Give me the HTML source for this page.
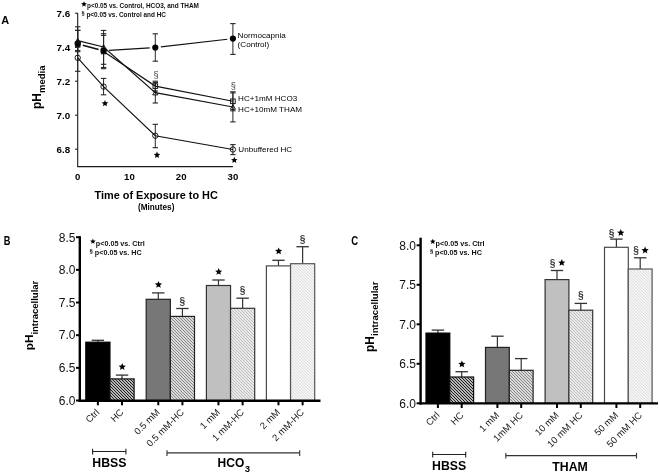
<!DOCTYPE html>
<html><head><meta charset="utf-8"><style>
html,body{margin:0;padding:0;background:#fff;}
svg{display:block;font-family:"Liberation Sans", sans-serif;filter:grayscale(1) blur(0.35px);}
</style></head><body>
<svg width="660" height="474" viewBox="0 0 660 474" font-family='"Liberation Sans", sans-serif'>
<rect width="660" height="474" fill="#fff"/>
<text x="1.20" y="23.80" font-size="11.3" font-weight="bold" text-anchor="start" fill="#000" transform="translate(1.2,0) scale(0.97,1) translate(-1.2,0)">A</text>
<line x1="77.70" y1="13.00" x2="77.70" y2="166.70" stroke="#1a1a1a" stroke-width="1.1" />
<line x1="77.15" y1="166.70" x2="232.90" y2="166.70" stroke="#1a1a1a" stroke-width="1.2" />
<line x1="75.10" y1="13.20" x2="77.70" y2="13.20" stroke="#1a1a1a" stroke-width="1.1" />
<text x="70.20" y="16.70" font-size="9.8" font-weight="bold" text-anchor="end" fill="#000" >7.6</text>
<line x1="75.10" y1="47.20" x2="77.70" y2="47.20" stroke="#1a1a1a" stroke-width="1.1" />
<text x="70.20" y="50.70" font-size="9.8" font-weight="bold" text-anchor="end" fill="#000" >7.4</text>
<line x1="75.10" y1="81.20" x2="77.70" y2="81.20" stroke="#1a1a1a" stroke-width="1.1" />
<text x="70.20" y="84.70" font-size="9.8" font-weight="bold" text-anchor="end" fill="#000" >7.2</text>
<line x1="75.10" y1="115.20" x2="77.70" y2="115.20" stroke="#1a1a1a" stroke-width="1.1" />
<text x="70.20" y="118.70" font-size="9.8" font-weight="bold" text-anchor="end" fill="#000" >7.0</text>
<line x1="75.10" y1="149.20" x2="77.70" y2="149.20" stroke="#1a1a1a" stroke-width="1.1" />
<text x="70.20" y="152.70" font-size="9.8" font-weight="bold" text-anchor="end" fill="#000" >6.8</text>
<text x="77.70" y="179.80" font-size="9.6" font-weight="bold" text-anchor="middle" fill="#000" >0</text>
<text x="129.43" y="179.80" font-size="9.6" font-weight="bold" text-anchor="middle" fill="#000" >10</text>
<text x="181.17" y="179.80" font-size="9.6" font-weight="bold" text-anchor="middle" fill="#000" >20</text>
<text x="232.90" y="179.80" font-size="9.6" font-weight="bold" text-anchor="middle" fill="#000" >30</text>
<text x="156.20" y="199.20" font-size="10.9" font-weight="bold" text-anchor="middle" fill="#000" >Time of Exposure to HC</text>
<text x="156.20" y="209.90" font-size="8.2" font-weight="bold" text-anchor="middle" fill="#000" >(Minutes)</text>
<text transform="translate(41.3,109.0) rotate(-90)" font-weight="bold" fill="#000"><tspan font-size="12">pH</tspan><tspan font-size="9.5" dy="4.1">media</tspan></text>
<polygon points="84.00,1.20 84.81,3.08 86.85,3.27 85.31,4.63 85.76,6.63 84.00,5.58 82.24,6.63 82.69,4.63 81.15,3.27 83.19,3.08" fill="#000"/>
<text x="87.00" y="8.30" font-size="6.42" font-weight="bold" text-anchor="start" fill="#111" >p&lt;0.05 vs. Control, HCO3, and THAM</text>
<text x="81.60" y="14.90" font-size="5.6" font-weight="bold" text-anchor="start" fill="#111" >&#167;</text>
<text x="86.40" y="16.60" font-size="6.42" font-weight="bold" text-anchor="start" fill="#111" >p&lt;0.05 vs. Control and HC</text>
<line x1="77.70" y1="44.50" x2="77.70" y2="71.30" stroke="#262626" stroke-width="1.0" />
<line x1="75.00" y1="44.50" x2="80.40" y2="44.50" stroke="#262626" stroke-width="1.1" />
<line x1="75.00" y1="71.30" x2="80.40" y2="71.30" stroke="#262626" stroke-width="1.1" />
<line x1="103.57" y1="78.40" x2="103.57" y2="94.80" stroke="#262626" stroke-width="1.0" />
<line x1="100.87" y1="78.40" x2="106.27" y2="78.40" stroke="#262626" stroke-width="1.1" />
<line x1="100.87" y1="94.80" x2="106.27" y2="94.80" stroke="#262626" stroke-width="1.1" />
<line x1="155.30" y1="124.30" x2="155.30" y2="147.70" stroke="#262626" stroke-width="1.0" />
<line x1="152.60" y1="124.30" x2="158.00" y2="124.30" stroke="#262626" stroke-width="1.1" />
<line x1="152.60" y1="147.70" x2="158.00" y2="147.70" stroke="#262626" stroke-width="1.1" />
<line x1="232.90" y1="144.60" x2="232.90" y2="154.60" stroke="#262626" stroke-width="1.0" />
<line x1="230.20" y1="144.60" x2="235.60" y2="144.60" stroke="#262626" stroke-width="1.1" />
<line x1="230.20" y1="154.60" x2="235.60" y2="154.60" stroke="#262626" stroke-width="1.1" />
<line x1="77.70" y1="30.40" x2="77.70" y2="51.70" stroke="#262626" stroke-width="1.0" />
<line x1="75.00" y1="30.40" x2="80.40" y2="30.40" stroke="#262626" stroke-width="1.1" />
<line x1="75.00" y1="51.70" x2="80.40" y2="51.70" stroke="#262626" stroke-width="1.1" />
<line x1="103.57" y1="35.40" x2="103.57" y2="64.30" stroke="#262626" stroke-width="1.0" />
<line x1="100.87" y1="35.40" x2="106.27" y2="35.40" stroke="#262626" stroke-width="1.1" />
<line x1="100.87" y1="64.30" x2="106.27" y2="64.30" stroke="#262626" stroke-width="1.1" />
<line x1="155.30" y1="82.60" x2="155.30" y2="103.00" stroke="#262626" stroke-width="1.0" />
<line x1="152.60" y1="82.60" x2="158.00" y2="82.60" stroke="#262626" stroke-width="1.1" />
<line x1="152.60" y1="103.00" x2="158.00" y2="103.00" stroke="#262626" stroke-width="1.1" />
<line x1="232.90" y1="92.90" x2="232.90" y2="121.90" stroke="#262626" stroke-width="1.0" />
<line x1="230.20" y1="92.90" x2="235.60" y2="92.90" stroke="#262626" stroke-width="1.1" />
<line x1="230.20" y1="121.90" x2="235.60" y2="121.90" stroke="#262626" stroke-width="1.1" />
<line x1="77.70" y1="30.40" x2="77.70" y2="47.20" stroke="#262626" stroke-width="1.0" />
<line x1="75.00" y1="30.40" x2="80.40" y2="30.40" stroke="#262626" stroke-width="1.1" />
<line x1="75.00" y1="47.20" x2="80.40" y2="47.20" stroke="#262626" stroke-width="1.1" />
<line x1="103.57" y1="33.70" x2="103.57" y2="67.50" stroke="#262626" stroke-width="1.0" />
<line x1="100.87" y1="33.70" x2="106.27" y2="33.70" stroke="#262626" stroke-width="1.1" />
<line x1="100.87" y1="67.50" x2="106.27" y2="67.50" stroke="#262626" stroke-width="1.1" />
<line x1="155.30" y1="81.20" x2="155.30" y2="91.00" stroke="#262626" stroke-width="1.0" />
<line x1="152.60" y1="81.20" x2="158.00" y2="81.20" stroke="#262626" stroke-width="1.1" />
<line x1="152.60" y1="91.00" x2="158.00" y2="91.00" stroke="#262626" stroke-width="1.1" />
<line x1="232.90" y1="91.80" x2="232.90" y2="110.80" stroke="#262626" stroke-width="1.0" />
<line x1="230.20" y1="91.80" x2="235.60" y2="91.80" stroke="#262626" stroke-width="1.1" />
<line x1="230.20" y1="110.80" x2="235.60" y2="110.80" stroke="#262626" stroke-width="1.1" />
<line x1="77.70" y1="26.80" x2="77.70" y2="50.50" stroke="#262626" stroke-width="1.0" />
<line x1="75.00" y1="26.80" x2="80.40" y2="26.80" stroke="#262626" stroke-width="1.1" />
<line x1="75.00" y1="50.50" x2="80.40" y2="50.50" stroke="#262626" stroke-width="1.1" />
<line x1="103.57" y1="30.40" x2="103.57" y2="68.70" stroke="#262626" stroke-width="1.0" />
<line x1="100.87" y1="30.40" x2="106.27" y2="30.40" stroke="#262626" stroke-width="1.1" />
<line x1="100.87" y1="68.70" x2="106.27" y2="68.70" stroke="#262626" stroke-width="1.1" />
<line x1="155.30" y1="33.80" x2="155.30" y2="61.20" stroke="#262626" stroke-width="1.0" />
<line x1="152.60" y1="33.80" x2="158.00" y2="33.80" stroke="#262626" stroke-width="1.1" />
<line x1="152.60" y1="61.20" x2="158.00" y2="61.20" stroke="#262626" stroke-width="1.1" />
<line x1="232.90" y1="23.60" x2="232.90" y2="54.40" stroke="#262626" stroke-width="1.0" />
<line x1="230.20" y1="23.60" x2="235.60" y2="23.60" stroke="#262626" stroke-width="1.1" />
<line x1="230.20" y1="54.40" x2="235.60" y2="54.40" stroke="#262626" stroke-width="1.1" />
<polyline points="77.70,57.80 103.57,86.60 155.30,135.70 232.90,149.50" fill="none" stroke="#111" stroke-width="1.15"/>
<polyline points="77.70,40.60 103.57,47.00 155.30,92.60 232.90,107.00" fill="none" stroke="#111" stroke-width="1.15"/>
<polyline points="103.57,51.50 155.30,86.10 232.90,101.30" fill="none" stroke="#111" stroke-width="1.15"/>
<line x1="109.16" y1="50.44" x2="149.71" y2="47.86" stroke="#111" stroke-width="1.15" />
<line x1="160.86" y1="46.86" x2="227.34" y2="39.24" stroke="#111" stroke-width="1.15" />
<line x1="82.80" y1="45.20" x2="98.60" y2="49.50" stroke="#111" stroke-width="1.6" />
<circle cx="77.70" cy="43.70" r="3.1" fill="#000"/>
<circle cx="103.57" cy="50.80" r="3.1" fill="#000"/>
<circle cx="155.30" cy="47.50" r="3.1" fill="#000"/>
<circle cx="232.90" cy="38.60" r="3.1" fill="#000"/>
<circle cx="77.70" cy="57.80" r="2.7" fill="none" stroke="#111" stroke-width="0.95"/>
<circle cx="103.57" cy="86.60" r="2.7" fill="none" stroke="#111" stroke-width="0.95"/>
<circle cx="155.30" cy="135.70" r="2.7" fill="none" stroke="#111" stroke-width="0.95"/>
<circle cx="232.90" cy="149.50" r="2.7" fill="none" stroke="#111" stroke-width="0.95"/>
<rect x="75.40" y="41.70" width="4.6" height="4.6" fill="none" stroke="#111" stroke-width="0.95"/>
<rect x="101.27" y="49.20" width="4.6" height="4.6" fill="none" stroke="#111" stroke-width="0.95"/>
<rect x="153.00" y="83.80" width="4.6" height="4.6" fill="none" stroke="#111" stroke-width="0.95"/>
<rect x="230.60" y="99.00" width="4.6" height="4.6" fill="none" stroke="#111" stroke-width="0.95"/>
<polygon points="77.70,38.30 80.30,42.90 75.10,42.90" fill="none" stroke="#111" stroke-width="0.95"/>
<polygon points="103.57,44.70 106.17,49.30 100.97,49.30" fill="none" stroke="#111" stroke-width="0.95"/>
<polygon points="155.30,90.30 157.90,94.90 152.70,94.90" fill="none" stroke="#111" stroke-width="0.95"/>
<polygon points="232.90,104.70 235.50,109.30 230.30,109.30" fill="none" stroke="#111" stroke-width="0.95"/>
<polygon points="105.00,99.90 105.93,102.13 108.33,102.32 106.50,103.89 107.06,106.23 105.00,104.98 102.94,106.23 103.50,103.89 101.67,102.32 104.07,102.13" fill="#000"/>
<polygon points="157.00,151.60 157.93,153.83 160.33,154.02 158.50,155.59 159.06,157.93 157.00,156.67 154.94,157.93 155.50,155.59 153.67,154.02 156.07,153.83" fill="#000"/>
<polygon points="234.30,156.80 235.20,158.96 237.53,159.15 235.76,160.67 236.30,162.95 234.30,161.73 232.30,162.95 232.84,160.67 231.07,159.15 233.40,158.96" fill="#000"/>
<text x="156.00" y="78.40" font-size="9.2" font-weight="normal" text-anchor="middle" fill="#3a3a3a" >&#167;</text>
<text x="233.20" y="88.60" font-size="9.2" font-weight="normal" text-anchor="middle" fill="#3a3a3a" >&#167;</text>
<text x="237.60" y="38.30" font-size="8.1" font-weight="normal" text-anchor="start" fill="#000" >Normocapnia</text>
<text x="237.60" y="47.30" font-size="8.1" font-weight="normal" text-anchor="start" fill="#000" >(Control)</text>
<text x="238.10" y="100.90" font-size="8.1" font-weight="normal" text-anchor="start" fill="#000" >HC+1mM HCO3</text>
<text x="238.10" y="112.10" font-size="8.1" font-weight="normal" text-anchor="start" fill="#000" >HC+10mM THAM</text>
<text x="238.30" y="152.00" font-size="8.1" font-weight="normal" text-anchor="start" fill="#000" >Unbuffered HC</text>
<defs>
<pattern id="hD" patternUnits="userSpaceOnUse" x="0" y="0" width="3" height="3"><rect width="3" height="3" fill="#fff"/><path d="M-1,-1 L4,4 M-4,-1 L1,4 M2,-1 L7,4" stroke="#151515" stroke-width="1.2"/></pattern>
<pattern id="hM" patternUnits="userSpaceOnUse" x="0" y="0" width="3" height="3"><rect width="3" height="3" fill="#fff"/><path d="M-1,-1 L4,4 M-4,-1 L1,4 M2,-1 L7,4" stroke="#858585" stroke-width="1.15"/></pattern>
<pattern id="hL" patternUnits="userSpaceOnUse" x="0" y="0" width="3" height="3"><rect width="3" height="3" fill="#fff"/><path d="M-1,-1 L4,4 M-4,-1 L1,4 M2,-1 L7,4" stroke="#bcbcbc" stroke-width="1.2"/></pattern>
<pattern id="hX" patternUnits="userSpaceOnUse" x="0" y="0" width="3" height="3"><rect width="3" height="3" fill="#fff"/><path d="M-1,-1 L4,4 M-4,-1 L1,4 M2,-1 L7,4" stroke="#dedede" stroke-width="1.2"/></pattern>
</defs>
<text x="3.70" y="244.90" font-size="12" font-weight="bold" text-anchor="start" fill="#000" transform="translate(3.7,0) scale(0.77,1) translate(-3.7,0)">B</text>
<line x1="97.88" y1="340.30" x2="97.88" y2="342.20" stroke="#333" stroke-width="1.2" />
<line x1="91.67" y1="340.30" x2="104.08" y2="340.30" stroke="#333" stroke-width="1.3" />
<rect x="85.80" y="342.20" width="24.15" height="58.40" fill="#000" stroke="#000" stroke-width="1.2"/>
<line x1="122.02" y1="375.10" x2="122.02" y2="378.90" stroke="#333" stroke-width="1.2" />
<line x1="115.82" y1="375.10" x2="128.22" y2="375.10" stroke="#333" stroke-width="1.3" />
<rect x="109.95" y="378.90" width="24.15" height="21.70" fill="url(#hD)" stroke="#111" stroke-width="1.2"/>
<line x1="158.27" y1="292.90" x2="158.27" y2="299.30" stroke="#333" stroke-width="1.2" />
<line x1="152.07" y1="292.90" x2="164.47" y2="292.90" stroke="#333" stroke-width="1.3" />
<rect x="146.20" y="299.30" width="24.15" height="101.30" fill="#777777" stroke="#222" stroke-width="1.2"/>
<line x1="182.42" y1="308.50" x2="182.42" y2="316.40" stroke="#333" stroke-width="1.2" />
<line x1="176.22" y1="308.50" x2="188.62" y2="308.50" stroke="#333" stroke-width="1.3" />
<rect x="170.35" y="316.40" width="24.15" height="84.20" fill="url(#hM)" stroke="#222" stroke-width="1.2"/>
<line x1="218.47" y1="280.00" x2="218.47" y2="285.50" stroke="#333" stroke-width="1.2" />
<line x1="212.28" y1="280.00" x2="224.67" y2="280.00" stroke="#333" stroke-width="1.3" />
<rect x="206.40" y="285.50" width="24.15" height="115.10" fill="#c0c0c0" stroke="#333" stroke-width="1.2"/>
<line x1="242.62" y1="298.20" x2="242.62" y2="308.30" stroke="#333" stroke-width="1.2" />
<line x1="236.43" y1="298.20" x2="248.82" y2="298.20" stroke="#333" stroke-width="1.3" />
<rect x="230.55" y="308.30" width="24.15" height="92.30" fill="url(#hL)" stroke="#333" stroke-width="1.2"/>
<line x1="278.47" y1="260.30" x2="278.47" y2="265.90" stroke="#333" stroke-width="1.2" />
<line x1="272.27" y1="260.30" x2="284.67" y2="260.30" stroke="#333" stroke-width="1.3" />
<rect x="266.40" y="265.90" width="24.15" height="134.70" fill="#fff" stroke="#4a4a4a" stroke-width="1.2"/>
<line x1="302.62" y1="246.70" x2="302.62" y2="263.70" stroke="#333" stroke-width="1.2" />
<line x1="296.42" y1="246.70" x2="308.82" y2="246.70" stroke="#333" stroke-width="1.3" />
<rect x="290.55" y="263.70" width="24.15" height="136.90" fill="url(#hX)" stroke="#555" stroke-width="1.2"/>
<line x1="79.80" y1="236.20" x2="79.80" y2="401.70" stroke="#000" stroke-width="2.4" />
<line x1="78.60" y1="400.80" x2="320.50" y2="400.80" stroke="#000" stroke-width="2.5" />
<line x1="76.00" y1="237.20" x2="79.80" y2="237.20" stroke="#000" stroke-width="2" />
<text x="75.40" y="241.50" font-size="12" font-weight="normal" text-anchor="end" fill="#111" >8.5</text>
<line x1="76.00" y1="269.86" x2="79.80" y2="269.86" stroke="#000" stroke-width="2" />
<text x="75.40" y="274.16" font-size="12" font-weight="normal" text-anchor="end" fill="#111" >8.0</text>
<line x1="76.00" y1="302.52" x2="79.80" y2="302.52" stroke="#000" stroke-width="2" />
<text x="75.40" y="306.82" font-size="12" font-weight="normal" text-anchor="end" fill="#111" >7.5</text>
<line x1="76.00" y1="335.18" x2="79.80" y2="335.18" stroke="#000" stroke-width="2" />
<text x="75.40" y="339.48" font-size="12" font-weight="normal" text-anchor="end" fill="#111" >7.0</text>
<line x1="76.00" y1="367.84" x2="79.80" y2="367.84" stroke="#000" stroke-width="2" />
<text x="75.40" y="372.14" font-size="12" font-weight="normal" text-anchor="end" fill="#111" >6.5</text>
<line x1="76.00" y1="400.50" x2="79.80" y2="400.50" stroke="#000" stroke-width="2" />
<text x="75.40" y="404.80" font-size="12" font-weight="normal" text-anchor="end" fill="#111" >6.0</text>
<text transform="translate(33.4,350.2) rotate(-90)" font-weight="bold" fill="#000"><tspan font-size="11.7">pH</tspan><tspan font-size="9.5" dy="4.5">intracellular</tspan></text>
<polygon points="92.90,238.60 93.68,240.42 95.66,240.60 94.17,241.91 94.60,243.85 92.90,242.83 91.20,243.85 91.63,241.91 90.14,240.60 92.12,240.42" fill="#000"/>
<text x="95.80" y="245.80" font-size="7.2" font-weight="bold" text-anchor="start" fill="#111" >p&lt;0.05 vs. Ctrl</text>
<text x="89.50" y="252.90" font-size="6" font-weight="bold" text-anchor="start" fill="#111" >&#167;</text>
<text x="94.80" y="254.70" font-size="7.2" font-weight="bold" text-anchor="start" fill="#111" >p&lt;0.05 vs. HC</text>
<line x1="97.88" y1="400.60" x2="97.88" y2="405.30" stroke="#000" stroke-width="2" />
<line x1="122.02" y1="400.60" x2="122.02" y2="405.30" stroke="#000" stroke-width="2" />
<line x1="158.27" y1="400.60" x2="158.27" y2="405.30" stroke="#000" stroke-width="2" />
<line x1="182.42" y1="400.60" x2="182.42" y2="405.30" stroke="#000" stroke-width="2" />
<line x1="218.47" y1="400.60" x2="218.47" y2="405.30" stroke="#000" stroke-width="2" />
<line x1="242.62" y1="400.60" x2="242.62" y2="405.30" stroke="#000" stroke-width="2" />
<line x1="278.47" y1="400.60" x2="278.47" y2="405.30" stroke="#000" stroke-width="2" />
<line x1="302.62" y1="400.60" x2="302.62" y2="405.30" stroke="#000" stroke-width="2" />
<text transform="translate(99.97,412.9) rotate(-45)" font-size="9.5" text-anchor="end" fill="#1a1a1a">Ctrl</text>
<text transform="translate(124.12,412.9) rotate(-45)" font-size="9.5" text-anchor="end" fill="#1a1a1a">HC</text>
<text transform="translate(160.37,412.9) rotate(-45)" font-size="9.5" text-anchor="end" fill="#1a1a1a">0.5 mM</text>
<text transform="translate(184.52,412.9) rotate(-45)" font-size="9.5" text-anchor="end" fill="#1a1a1a">0.5 mM-HC</text>
<text transform="translate(220.57,412.9) rotate(-45)" font-size="9.5" text-anchor="end" fill="#1a1a1a">1 mM</text>
<text transform="translate(244.72,412.9) rotate(-45)" font-size="9.5" text-anchor="end" fill="#1a1a1a">1 mM-HC</text>
<text transform="translate(280.57,412.9) rotate(-45)" font-size="9.5" text-anchor="end" fill="#1a1a1a">2 mM</text>
<text transform="translate(304.72,412.9) rotate(-45)" font-size="9.5" text-anchor="end" fill="#1a1a1a">2 mM-HC</text>
<polygon points="122.22,363.10 123.23,365.52 125.84,365.73 123.85,367.43 124.46,369.97 122.22,368.61 119.99,369.97 120.60,367.43 118.61,365.73 121.22,365.52" fill="#000"/>
<polygon points="158.47,280.90 159.48,283.32 162.09,283.53 160.10,285.23 160.71,287.77 158.47,286.41 156.24,287.77 156.85,285.23 154.86,283.53 157.47,283.32" fill="#000"/>
<polygon points="218.67,268.00 219.68,270.42 222.29,270.63 220.30,272.33 220.91,274.87 218.67,273.51 216.44,274.87 217.05,272.33 215.06,270.63 217.67,270.42" fill="#000"/>
<polygon points="278.67,247.40 279.68,249.82 282.29,250.03 280.30,251.73 280.91,254.27 278.67,252.91 276.44,254.27 277.05,251.73 275.06,250.03 277.67,249.82" fill="#000"/>
<text x="182.42" y="304.50" font-size="10.2" font-weight="bold" text-anchor="middle" fill="#3a3a3a" >&#167;</text>
<text x="242.62" y="294.20" font-size="10.2" font-weight="bold" text-anchor="middle" fill="#3a3a3a" >&#167;</text>
<text x="302.62" y="242.70" font-size="10.2" font-weight="bold" text-anchor="middle" fill="#3a3a3a" >&#167;</text>
<line x1="92.60" y1="451.50" x2="125.90" y2="451.50" stroke="#222" stroke-width="1.1" />
<line x1="92.60" y1="448.80" x2="92.60" y2="454.50" stroke="#222" stroke-width="1.1" />
<line x1="125.90" y1="448.80" x2="125.90" y2="454.50" stroke="#222" stroke-width="1.1" />
<text x="109.40" y="466.80" font-size="12.3" font-weight="bold" text-anchor="middle" fill="#000" >HBSS</text>
<line x1="167.00" y1="452.90" x2="299.70" y2="452.90" stroke="#333" stroke-width="1.1" />
<line x1="167.00" y1="450.20" x2="167.00" y2="455.90" stroke="#333" stroke-width="1.1" />
<line x1="299.70" y1="450.20" x2="299.70" y2="455.90" stroke="#333" stroke-width="1.1" />
<text x="217.6" y="466.8" font-weight="bold" fill="#000"><tspan font-size="12">HCO</tspan><tspan font-size="9.5" dx="0.6" dy="4.9">3</tspan></text>
<text x="351.20" y="244.90" font-size="12" font-weight="bold" text-anchor="start" fill="#000" transform="translate(351.2,0) scale(0.8,1) translate(-351.2,0)">C</text>
<line x1="437.90" y1="330.10" x2="437.90" y2="333.10" stroke="#333" stroke-width="1.2" />
<line x1="431.70" y1="330.10" x2="444.10" y2="330.10" stroke="#333" stroke-width="1.3" />
<rect x="426.00" y="333.10" width="23.80" height="70.30" fill="#000" stroke="#000" stroke-width="1.2"/>
<line x1="461.70" y1="371.70" x2="461.70" y2="377.00" stroke="#333" stroke-width="1.2" />
<line x1="455.50" y1="371.70" x2="467.90" y2="371.70" stroke="#333" stroke-width="1.3" />
<rect x="449.80" y="377.00" width="23.80" height="26.40" fill="url(#hD)" stroke="#111" stroke-width="1.2"/>
<line x1="497.40" y1="336.20" x2="497.40" y2="347.40" stroke="#333" stroke-width="1.2" />
<line x1="491.20" y1="336.20" x2="503.60" y2="336.20" stroke="#333" stroke-width="1.3" />
<rect x="485.50" y="347.40" width="23.80" height="56.00" fill="#777777" stroke="#222" stroke-width="1.2"/>
<line x1="521.20" y1="358.60" x2="521.20" y2="370.30" stroke="#333" stroke-width="1.2" />
<line x1="515.00" y1="358.60" x2="527.40" y2="358.60" stroke="#333" stroke-width="1.3" />
<rect x="509.30" y="370.30" width="23.80" height="33.10" fill="url(#hM)" stroke="#222" stroke-width="1.2"/>
<line x1="557.00" y1="270.50" x2="557.00" y2="279.60" stroke="#333" stroke-width="1.2" />
<line x1="550.80" y1="270.50" x2="563.20" y2="270.50" stroke="#333" stroke-width="1.3" />
<rect x="545.10" y="279.60" width="23.80" height="123.80" fill="#c0c0c0" stroke="#333" stroke-width="1.2"/>
<line x1="580.80" y1="303.40" x2="580.80" y2="310.20" stroke="#333" stroke-width="1.2" />
<line x1="574.60" y1="303.40" x2="587.00" y2="303.40" stroke="#333" stroke-width="1.3" />
<rect x="568.90" y="310.20" width="23.80" height="93.20" fill="url(#hL)" stroke="#333" stroke-width="1.2"/>
<line x1="616.40" y1="239.10" x2="616.40" y2="247.30" stroke="#333" stroke-width="1.2" />
<line x1="610.20" y1="239.10" x2="622.60" y2="239.10" stroke="#333" stroke-width="1.3" />
<rect x="604.50" y="247.30" width="23.80" height="156.10" fill="#fff" stroke="#4a4a4a" stroke-width="1.2"/>
<line x1="640.20" y1="257.80" x2="640.20" y2="269.00" stroke="#333" stroke-width="1.2" />
<line x1="634.00" y1="257.80" x2="646.40" y2="257.80" stroke="#333" stroke-width="1.3" />
<rect x="628.30" y="269.00" width="23.80" height="134.40" fill="url(#hX)" stroke="#555" stroke-width="1.2"/>
<line x1="420.60" y1="237.70" x2="420.60" y2="404.50" stroke="#000" stroke-width="2.4" />
<line x1="419.40" y1="403.40" x2="658.00" y2="403.40" stroke="#000" stroke-width="2.4" />
<line x1="416.60" y1="245.30" x2="420.60" y2="245.30" stroke="#000" stroke-width="2" />
<text x="416.00" y="249.60" font-size="12" font-weight="normal" text-anchor="end" fill="#111" >8.0</text>
<line x1="416.60" y1="284.80" x2="420.60" y2="284.80" stroke="#000" stroke-width="2" />
<text x="416.00" y="289.10" font-size="12" font-weight="normal" text-anchor="end" fill="#111" >7.5</text>
<line x1="416.60" y1="324.30" x2="420.60" y2="324.30" stroke="#000" stroke-width="2" />
<text x="416.00" y="328.60" font-size="12" font-weight="normal" text-anchor="end" fill="#111" >7.0</text>
<line x1="416.60" y1="363.80" x2="420.60" y2="363.80" stroke="#000" stroke-width="2" />
<text x="416.00" y="368.10" font-size="12" font-weight="normal" text-anchor="end" fill="#111" >6.5</text>
<line x1="416.60" y1="403.30" x2="420.60" y2="403.30" stroke="#000" stroke-width="2" />
<text x="416.00" y="407.60" font-size="12" font-weight="normal" text-anchor="end" fill="#111" >6.0</text>
<text transform="translate(374.4,352.0) rotate(-90)" font-weight="bold" fill="#000"><tspan font-size="12">pH</tspan><tspan font-size="9.6" dy="3.9">intracellular</tspan></text>
<polygon points="432.80,238.80 433.58,240.62 435.56,240.80 434.07,242.11 434.50,244.05 432.80,243.03 431.10,244.05 431.53,242.11 430.04,240.80 432.02,240.62" fill="#000"/>
<text x="435.60" y="246.00" font-size="7.2" font-weight="bold" text-anchor="start" fill="#111" >p&lt;0.05 vs. Ctrl</text>
<text x="430.00" y="252.90" font-size="6" font-weight="bold" text-anchor="start" fill="#111" >&#167;</text>
<text x="435.00" y="254.60" font-size="7.2" font-weight="bold" text-anchor="start" fill="#111" >p&lt;0.05 vs. HC</text>
<line x1="437.90" y1="403.40" x2="437.90" y2="408.00" stroke="#000" stroke-width="2" />
<line x1="461.70" y1="403.40" x2="461.70" y2="408.00" stroke="#000" stroke-width="2" />
<line x1="497.40" y1="403.40" x2="497.40" y2="408.00" stroke="#000" stroke-width="2" />
<line x1="521.20" y1="403.40" x2="521.20" y2="408.00" stroke="#000" stroke-width="2" />
<line x1="557.00" y1="403.40" x2="557.00" y2="408.00" stroke="#000" stroke-width="2" />
<line x1="580.80" y1="403.40" x2="580.80" y2="408.00" stroke="#000" stroke-width="2" />
<line x1="616.40" y1="403.40" x2="616.40" y2="408.00" stroke="#000" stroke-width="2" />
<line x1="640.20" y1="403.40" x2="640.20" y2="408.00" stroke="#000" stroke-width="2" />
<text transform="translate(440.30,415.8) rotate(-45)" font-size="9.5" text-anchor="end" fill="#1a1a1a">Ctrl</text>
<text transform="translate(464.10,415.8) rotate(-45)" font-size="9.5" text-anchor="end" fill="#1a1a1a">HC</text>
<text transform="translate(499.80,415.8) rotate(-45)" font-size="9.5" text-anchor="end" fill="#1a1a1a">1 mM</text>
<text transform="translate(523.60,415.8) rotate(-45)" font-size="9.5" text-anchor="end" fill="#1a1a1a">1mM HC</text>
<text transform="translate(559.40,415.8) rotate(-45)" font-size="9.5" text-anchor="end" fill="#1a1a1a">10 mM</text>
<text transform="translate(583.20,415.8) rotate(-45)" font-size="9.5" text-anchor="end" fill="#1a1a1a">10 mM HC</text>
<text transform="translate(618.80,415.8) rotate(-45)" font-size="9.5" text-anchor="end" fill="#1a1a1a">50 mM</text>
<text transform="translate(642.60,415.8) rotate(-45)" font-size="9.5" text-anchor="end" fill="#1a1a1a">50 mM HC</text>
<polygon points="461.90,360.40 462.91,362.82 465.51,363.03 463.53,364.73 464.13,367.27 461.90,365.91 459.67,367.27 460.27,364.73 458.29,363.03 460.89,362.82" fill="#000"/>
<text x="580.80" y="299.40" font-size="10.2" font-weight="bold" text-anchor="middle" fill="#3a3a3a" >&#167;</text>
<text x="552.70" y="266.70" font-size="10.2" font-weight="bold" text-anchor="middle" fill="#3a3a3a" >&#167;</text>
<polygon points="561.80,259.00 562.81,261.42 565.41,261.63 563.43,263.33 564.03,265.87 561.80,264.51 559.57,265.87 560.17,263.33 558.19,261.63 560.79,261.42" fill="#000"/>
<text x="611.70" y="236.80" font-size="10.2" font-weight="bold" text-anchor="middle" fill="#3a3a3a" >&#167;</text>
<polygon points="620.80,229.10 621.81,231.52 624.41,231.73 622.43,233.43 623.03,235.97 620.80,234.61 618.57,235.97 619.17,233.43 617.19,231.73 619.79,231.52" fill="#000"/>
<text x="636.00" y="254.30" font-size="10.2" font-weight="bold" text-anchor="middle" fill="#3a3a3a" >&#167;</text>
<polygon points="645.10,246.60 646.11,249.02 648.71,249.23 646.73,250.93 647.33,253.47 645.10,252.11 642.87,253.47 643.47,250.93 641.49,249.23 644.09,249.02" fill="#000"/>
<line x1="432.70" y1="454.50" x2="465.70" y2="454.50" stroke="#222" stroke-width="1.1" />
<line x1="432.70" y1="451.80" x2="432.70" y2="457.50" stroke="#222" stroke-width="1.1" />
<line x1="465.70" y1="451.80" x2="465.70" y2="457.50" stroke="#222" stroke-width="1.1" />
<text x="449.20" y="470.40" font-size="12.3" font-weight="bold" text-anchor="middle" fill="#000" >HBSS</text>
<line x1="505.80" y1="455.60" x2="636.50" y2="455.60" stroke="#333" stroke-width="1.1" />
<line x1="505.80" y1="452.90" x2="505.80" y2="458.60" stroke="#333" stroke-width="1.1" />
<line x1="636.50" y1="452.90" x2="636.50" y2="458.60" stroke="#333" stroke-width="1.1" />
<text x="570.00" y="470.60" font-size="12.3" font-weight="bold" text-anchor="middle" fill="#000" >THAM</text>
</svg>
</body></html>
